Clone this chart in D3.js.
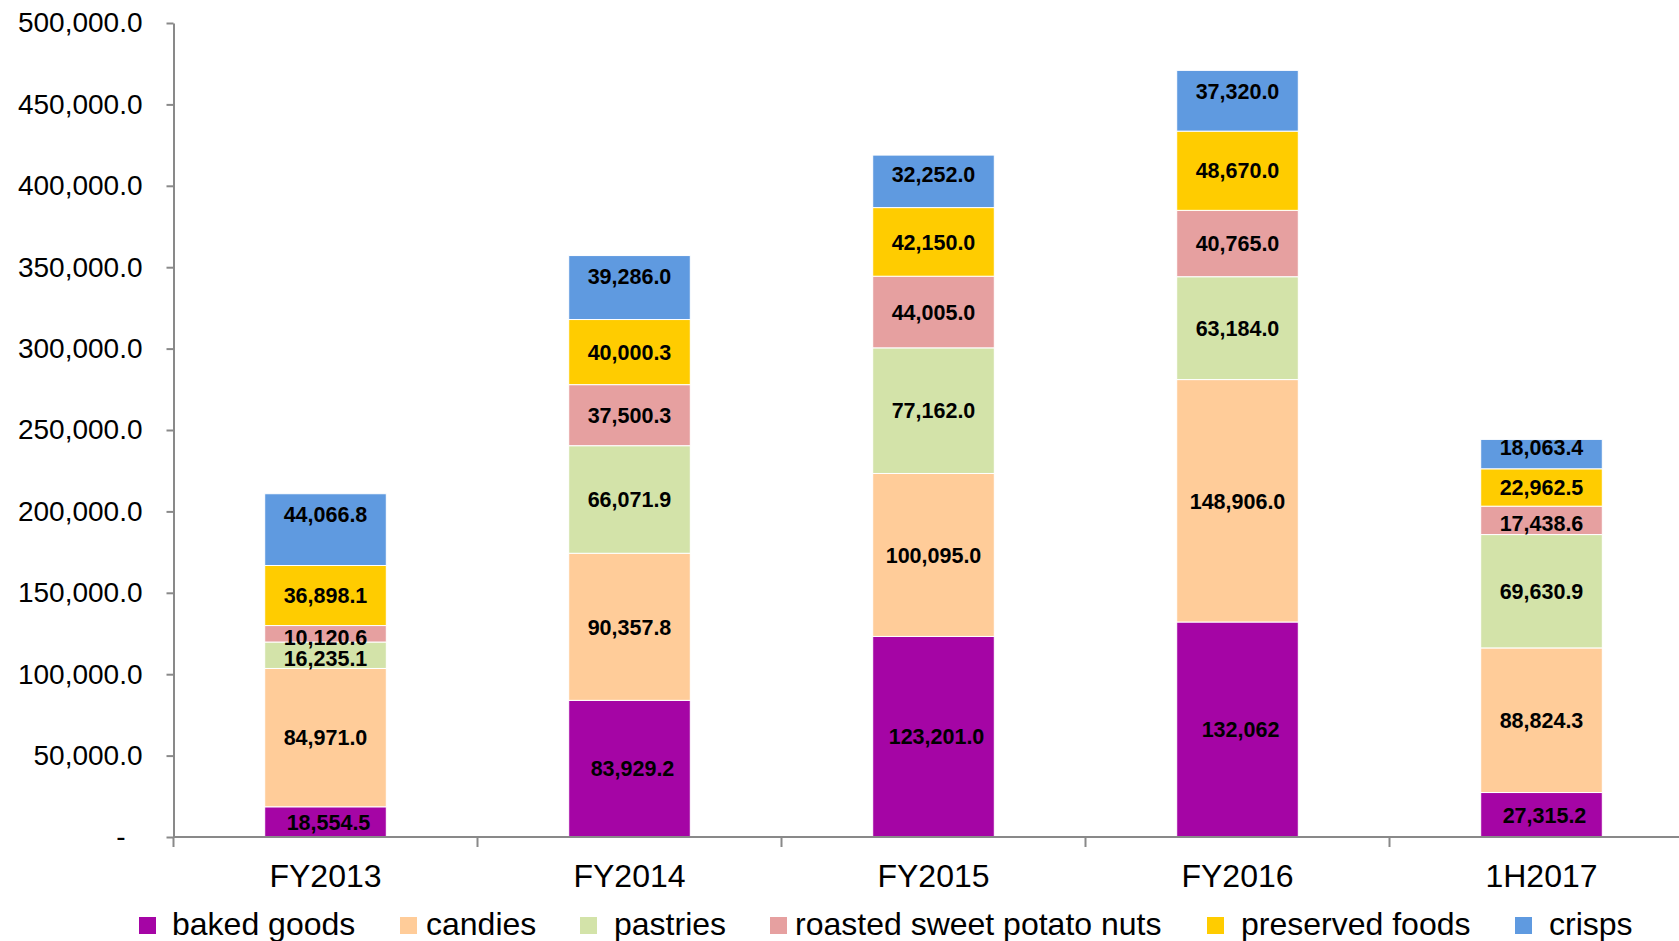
<!DOCTYPE html>
<head>
<meta charset="utf-8">
<script src="https://d3js.org/d3.v7.min.js"></script>
<title>Revenue by product category</title>
<style>
  body { margin: 0; background: #fff; }
  svg { display: block; font-family: "Liberation Sans", Arial, sans-serif; }
</style>
</head>

<body>
<div id="chart"></div>

<script>

// chart data
var periods = ["FY2013", "FY2014", "FY2015", "FY2016", "1H2017"];
var categories = ["baked goods", "candies", "pastries", "roasted sweet potato nuts", "preserved foods", "crisps"];

var bakedGoods = [18554.5, 83929.2, 123201.0, 132062, 27315.2];
var candies = [84971.0, 90357.8, 100095.0, 148906.0, 88824.3];
var pastries = [16235.1, 66071.9, 77162.0, 63184.0, 69630.9];
var roastedNuts = [10120.6, 37500.3, 44005.0, 40765.0, 17438.6];
var preservedFoods = [36898.1, 40000.3, 42150.0, 48670.0, 22962.5];
var crisps = [44066.8, 39286.0, 32252.0, 37320.0, 18063.4];

var yTicks = [0, 50000, 100000, 150000, 200000, 250000, 300000, 350000, 400000, 450000, 500000];

// one label in the source is printed without decimals
var labelOverrides = { "baked goods|FY2016": "132,062" };

var colors = ["#a505a5", "#ffcc99", "#d3e3a9", "#e6a0a0", "#ffcc00", "#5f9ae0"];

// set the dimensions of graph
var width = 1679,
    height = 941;

var svg = d3.select("#chart")
    .append("svg")
    .attr("width", width)
    .attr("height", height);

// build rows for stacking
var seriesValues = [bakedGoods, candies, pastries, roastedNuts, preservedFoods, crisps];
var rows = periods.map(function(p, i) {
    var row = { period: p };
    categories.forEach(function(c, k) { row[c] = seriesValues[k][i]; });
    return row;
});

var stacked = d3.stack().keys(categories)(rows);

// scales (plot runs past the right edge like the source)
var x = d3.scaleBand()
    .domain(periods)
    .range([173.5, 173.5 + 5 * 304])
    .paddingInner(0.6)
    .paddingOuter(0.3);

var y = d3.scaleLinear()
    .domain([0, 500000])
    .range([837, 23]);

var color = d3.scaleOrdinal().domain(categories).range(colors);

var fmt = d3.format(",.1f");

// bars
var layer = svg.append("g")
    .selectAll("g")
    .data(stacked)
    .enter().append("g")
    .attr("fill", function(d) { return color(d.key); });

layer.selectAll("rect")
    .data(function(d) { return d; })
    .enter().append("rect")
    .attr("x", function(d) { return x(d.data.period); })
    .attr("width", x.bandwidth())
    .attr("y", function(d) { return y(d[1]); })
    .attr("height", function(d) { return y(d[0]) - y(d[1]); })
    .attr("stroke", "#fff")
    .attr("stroke-width", 1);

// segment labels; the top (crisps) labels sit near the top of their segment
layer.each(function(s) {
    var isTop = s.key === "crisps";
    d3.select(this).selectAll("text")
        .data(s)
        .enter().append("text")
        .attr("x", function(d) {
            var cx = x(d.data.period) + x.bandwidth() / 2;
            return s.key === "baked goods" ? cx + 3 : cx;
        })
        .attr("y", function(d) {
            var top = y(d[1]), h = y(d[0]) - y(d[1]);
            if (isTop) return top + Math.min(21, h / 2 - 7);
            if (h < 30) return top + h / 2 + 3;
            return top + h / 2;
        })
        .attr("dy", "0.36em")
        .attr("text-anchor", "middle")
        .attr("fill", "#000")
        .attr("font-size", 21.5)
        .attr("font-weight", "bold")
        .text(function(d) {
            var key = s.key + "|" + d.data.period;
            return labelOverrides[key] || fmt(d[1] - d[0]);
        });
});

// y axis
var yAxis = svg.append("g")
    .attr("transform", "translate(173.5,0)")
    .call(d3.axisLeft(y)
        .tickValues(yTicks)
        .tickSize(7)
        .tickSizeOuter(0)
        .tickPadding(24)
        .tickFormat(function(v) { return v === 0 ? "-" : fmt(v); }));

yAxis.select(".domain").attr("stroke", "#898989").attr("stroke-width", 2);
yAxis.selectAll(".tick line").attr("stroke", "#898989").attr("stroke-width", 2);
yAxis.selectAll(".tick text")
    .attr("font-size", 28)
    .attr("fill", "#000")
    .attr("font-family", "Liberation Sans, Arial, sans-serif");
// accounting-style dash sits a little left of the numbers
yAxis.selectAll(".tick text").filter(function(v) { return v === 0; })
    .attr("x", -48);

// x axis: baseline plus ticks at band boundaries
var xAxis = svg.append("g");
var x0 = x.range()[0], x1 = x.range()[1];
var step = x.step();

xAxis.append("line")
    .attr("x1", x0).attr("x2", x1)
    .attr("y1", y(0)).attr("y2", y(0))
    .attr("stroke", "#898989")
    .attr("stroke-width", 2);

xAxis.selectAll(".xtick")
    .data(d3.range(periods.length + 1))
    .enter().append("line")
    .attr("class", "xtick")
    .attr("x1", function(i) { return x0 + i * step; })
    .attr("x2", function(i) { return x0 + i * step; })
    .attr("y1", y(0))
    .attr("y2", y(0) + 10)
    .attr("stroke", "#898989")
    .attr("stroke-width", 2);

xAxis.selectAll(".xlabel")
    .data(periods)
    .enter().append("text")
    .attr("class", "xlabel")
    .attr("x", function(d) { return x(d) + x.bandwidth() / 2; })
    .attr("y", 887)
    .attr("text-anchor", "middle")
    .attr("font-size", 32)
    .attr("fill", "#000")
    .text(function(d) { return d; });

// legend along the bottom (marker left edges and marker-to-text gaps as in the source)
var legendX = [139, 400, 580, 770, 1207, 1515];
var legendGap = [16, 9, 17, 8, 17, 17];
var legend = svg.append("g");
categories.forEach(function(c, i) {
    legend.append("rect")
        .attr("x", legendX[i])
        .attr("y", 917)
        .attr("width", 17)
        .attr("height", 17)
        .attr("fill", color(c));
    legend.append("text")
        .attr("x", legendX[i] + 17 + legendGap[i])
        .attr("y", 935)
        .attr("font-size", 32)
        .attr("fill", "#000")
        .text(c);
});

</script>
</body>
